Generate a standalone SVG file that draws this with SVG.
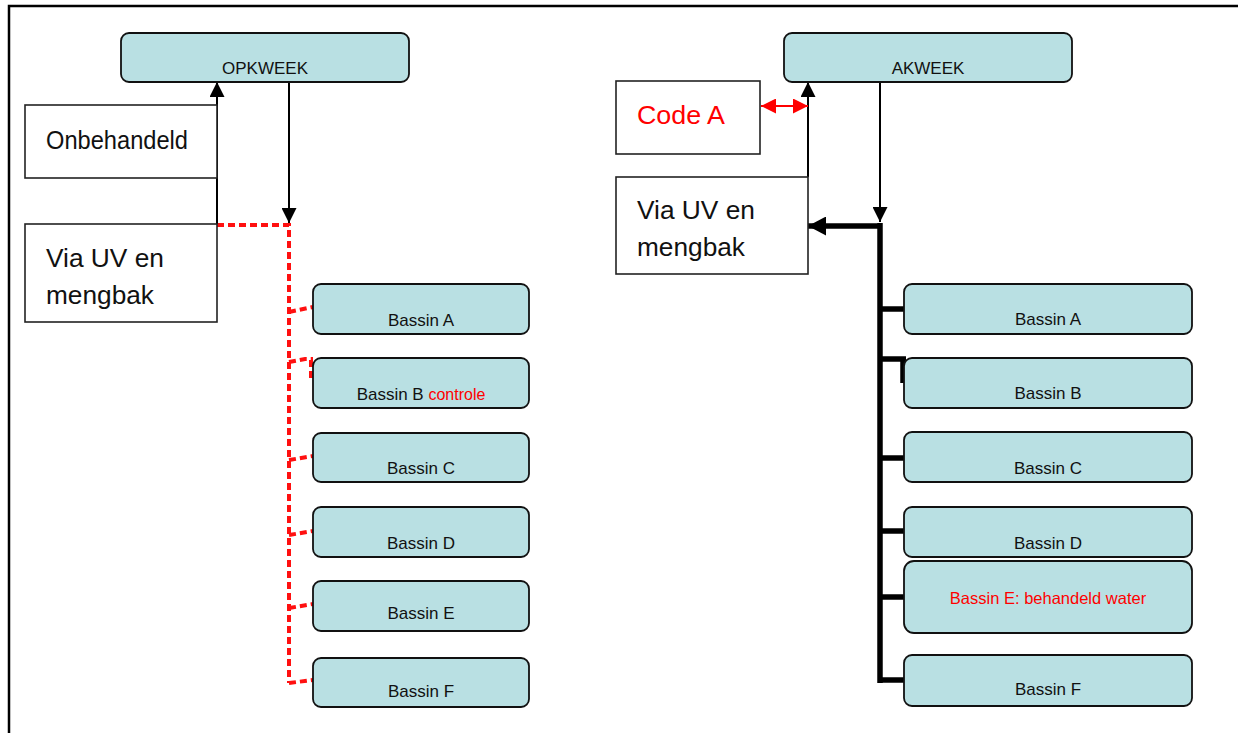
<svg xmlns="http://www.w3.org/2000/svg" width="1238" height="733" viewBox="0 0 1238 733">
<defs>
<style>
.bas{fill:#B9E0E3;stroke:#111;stroke-width:1.8}
.box{fill:#fff;stroke:#222;stroke-width:1.6}
.t{font-family:"Liberation Sans",Arial,sans-serif;fill:#111}
.small{font-size:17px}
.big{font-size:25px}
.red{fill:#FF0000}
.thin{fill:none;stroke:#000;stroke-width:2}
.thick{fill:none;stroke:#000;stroke-width:5.5}
.dash{fill:none;stroke:#FF1010;stroke-width:4;stroke-dasharray:7 4}
</style>
<marker id="ah" markerUnits="userSpaceOnUse" markerWidth="15" markerHeight="15" refX="15" refY="7.5" orient="auto"><path d="M0,0 L15,7.5 L0,15 z" fill="#000"/></marker>
<marker id="ahT" markerUnits="userSpaceOnUse" markerWidth="18" markerHeight="19" refX="18" refY="9.5" orient="auto"><path d="M0,0 L18,9.5 L0,19 z" fill="#000"/></marker>
<marker id="ahR" markerUnits="userSpaceOnUse" markerWidth="15" markerHeight="15" refX="15" refY="7.5" orient="auto-start-reverse"><path d="M0,0 L15,7.5 L0,15 z" fill="#FF0000"/></marker>
</defs>
<rect width="1238" height="733" fill="#fff"/>
<path d="M9,733 V6 H1238" fill="none" stroke="#000" stroke-width="2.5"/>

<g id="connectors">
<path class="dash" d="M217,225 H289 V683"/>
<path class="dash" d="M289,312 L313,307"/>
<path class="dash" d="M289,362 L305,359 H313"/>
<path class="dash" d="M311,360 V380"/>
<path class="dash" d="M289,460 L313,456"/>
<path class="dash" d="M289,535 L313,531"/>
<path class="dash" d="M289,608 L313,604"/>
<path class="dash" d="M289,683 L313,680"/>
<path class="thin" d="M217,224 V82" marker-end="url(#ah)"/>
<path class="thin" d="M289,82 V223" marker-end="url(#ah)"/>
<path class="thin" d="M808,177 V82" marker-end="url(#ah)"/>
<path class="thin" d="M880,82 V222" marker-end="url(#ah)"/>
<path d="M761,106 H808" fill="none" stroke="#FF0000" stroke-width="2" marker-start="url(#ahR)" marker-end="url(#ahR)"/>
<path class="thick" d="M880,223 V683"/>
<path class="thick" d="M880,226 H808" marker-end="url(#ahT)"/>
<path class="thick" d="M880,309 H904"/>
<path class="thick" d="M880,359 H906"/>
<path class="thick" d="M903,359 V383" stroke-width="4"/>
<path class="thick" d="M880,458 H904"/>
<path class="thick" d="M880,531 H904"/>
<path class="thick" d="M880,597 H904"/>
<path class="thick" d="M880,680 H904"/>
</g>

<g id="opkweek"><rect class="bas" x="121" y="33" width="288" height="49" rx="8"/><text class="t small" x="265" y="74" text-anchor="middle">OPKWEEK</text></g>
<g id="onbehandeld"><rect class="box" x="25" y="105" width="192" height="73"/><text class="t big" x="46" y="149" textLength="142" lengthAdjust="spacingAndGlyphs">Onbehandeld</text></g>
<g id="viauv-left"><rect class="box" x="25" y="224" width="192" height="98"/><text class="t big" x="46" y="267" textLength="118" lengthAdjust="spacingAndGlyphs">Via UV en</text><text class="t big" x="46" y="304" textLength="108" lengthAdjust="spacingAndGlyphs">mengbak</text></g>

<g id="l-bassin-a"><rect class="bas" x="313" y="284" width="216" height="50" rx="8"/><text class="t small" x="421" y="326" text-anchor="middle">Bassin A</text></g>
<g id="l-bassin-b"><rect class="bas" x="313" y="358" width="216" height="50" rx="8"/><text class="t small" x="421" y="400" text-anchor="middle">Bassin B <tspan class="red" font-size="16">controle</tspan></text></g>
<g id="l-bassin-c"><rect class="bas" x="313" y="433" width="216" height="49" rx="8"/><text class="t small" x="421" y="474" text-anchor="middle">Bassin C</text></g>
<g id="l-bassin-d"><rect class="bas" x="313" y="507" width="216" height="50" rx="8"/><text class="t small" x="421" y="549" text-anchor="middle">Bassin D</text></g>
<g id="l-bassin-e"><rect class="bas" x="313" y="581" width="216" height="50" rx="8"/><text class="t small" x="421" y="619" text-anchor="middle">Bassin E</text></g>
<g id="l-bassin-f"><rect class="bas" x="313" y="658" width="216" height="49" rx="8"/><text class="t small" x="421" y="697" text-anchor="middle">Bassin F</text></g>

<g id="akweek"><rect class="bas" x="784" y="33" width="288" height="49" rx="8"/><text class="t small" x="928" y="74" text-anchor="middle">AKWEEK</text></g>
<g id="code-a"><rect class="box" x="616" y="81" width="144" height="73"/><text class="t big red" x="637" y="124" textLength="88" lengthAdjust="spacingAndGlyphs">Code A</text></g>
<g id="viauv-right"><rect class="box" x="616" y="177" width="192" height="97"/><text class="t big" x="637" y="219" textLength="118" lengthAdjust="spacingAndGlyphs">Via UV en</text><text class="t big" x="637" y="256" textLength="108" lengthAdjust="spacingAndGlyphs">mengbak</text></g>

<g id="r-bassin-a"><rect class="bas" x="904" y="284" width="288" height="50" rx="8"/><text class="t small" x="1048" y="325" text-anchor="middle">Bassin A</text></g>
<g id="r-bassin-b"><rect class="bas" x="904" y="358" width="288" height="50" rx="8"/><text class="t small" x="1048" y="399" text-anchor="middle">Bassin B</text></g>
<g id="r-bassin-c"><rect class="bas" x="904" y="432" width="288" height="50" rx="8"/><text class="t small" x="1048" y="474" text-anchor="middle">Bassin C</text></g>
<g id="r-bassin-d"><rect class="bas" x="904" y="507" width="288" height="50" rx="8"/><text class="t small" x="1048" y="549" text-anchor="middle">Bassin D</text></g>
<g id="r-bassin-e"><rect class="bas" x="904" y="561" width="288" height="72" rx="10"/><text class="t red" font-size="16.5" x="1048" y="604" text-anchor="middle">Bassin E: behandeld water</text></g>
<g id="r-bassin-f"><rect class="bas" x="904" y="655" width="288" height="51" rx="8"/><text class="t small" x="1048" y="695" text-anchor="middle">Bassin F</text></g>
</svg>
